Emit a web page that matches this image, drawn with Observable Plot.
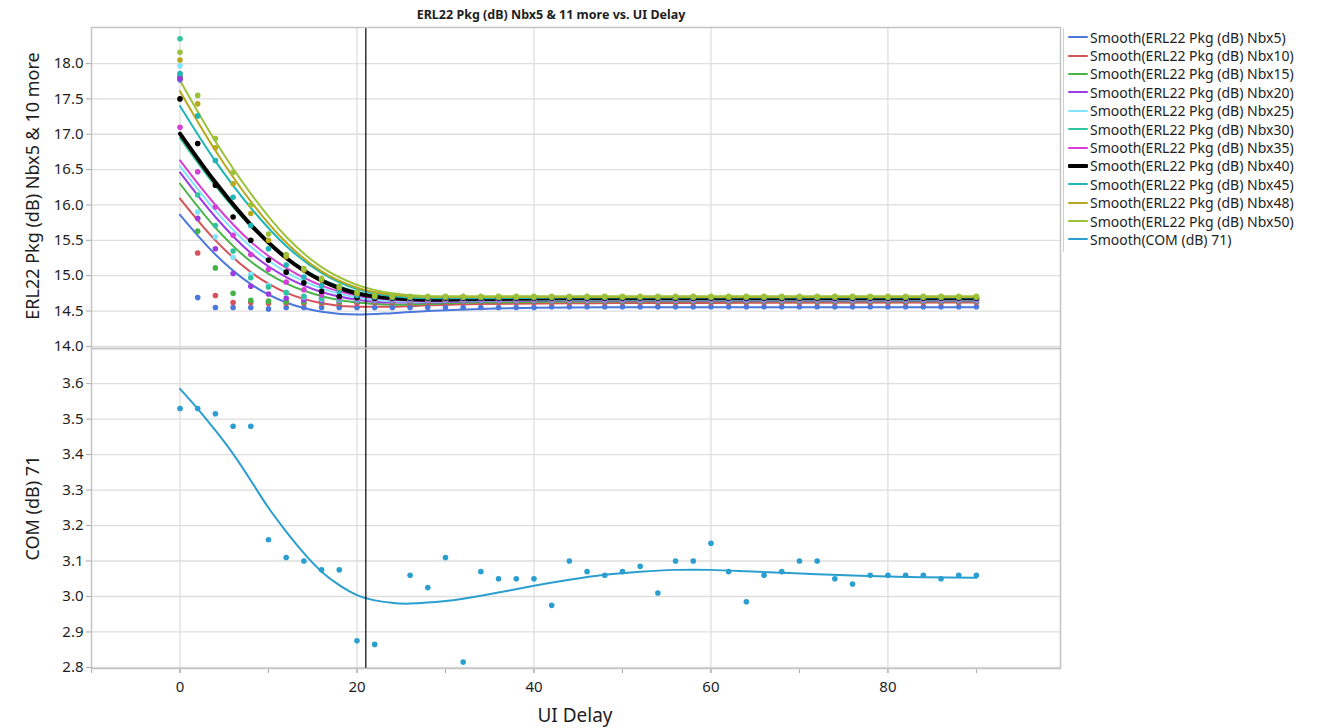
<!DOCTYPE html>
<html><head><meta charset="utf-8">
<script src="https://cdn.jsdelivr.net/npm/d3@7"></script>
<script src="https://cdn.jsdelivr.net/npm/@observablehq/plot@0.6"></script>
<style>
body{margin:0;background:#fff;font-family:"Noto Sans","Open Sans",sans-serif;}
#wrap{position:relative;width:1337px;height:728px;overflow:hidden;background:#fff}
#wrap svg{position:absolute;left:0;top:0;background:transparent}
.lbl{position:absolute;color:#1e1e1e;white-space:nowrap}
#legend{position:absolute;left:1063px;top:28px;height:224px;border-left:1px solid #cfcfcf;padding-left:4px}
.row{height:18.4px;display:flex;align-items:center;font-size:14px;color:#1e1e1e;white-space:nowrap}
.sw{width:20px;margin-right:2px;border-radius:1px}
</style></head><body><div id="wrap"></div>
<script>
// ---------- data ----------
const uiDelay = [0,2,4,6,8,10,12,14,16,18,20,22,24,26,28,30,32,34,36,38,40,42,44,46,48,50,52,54,56,58,60,62,64,66,68,70,72,74,76,78,80,82,84,86,88,90];

const seriesNames = ["Nbx5","Nbx10","Nbx15","Nbx20","Nbx25","Nbx30","Nbx35","Nbx40","Nbx45","Nbx48","Nbx50"];
const seriesColors = ["#4a78dc","#d6525a","#47b347","#9d3be0","#80e4ff","#2ec4a0","#d63ed6","#000000","#1fb5b8","#b8a81e","#9cc23a"];
const comColor = "#2a9fcf";

const erlNbx5  = [17.77,14.69,14.55,14.55,14.55,14.53,14.55,14.55,14.55,14.55,14.55,14.55,14.55,14.55,14.55,14.55,14.55,14.55,14.55,14.55,14.55,14.56,14.56,14.56,14.56,14.56,14.56,14.56,14.56,14.56,14.56,14.56,14.56,14.56,14.56,14.56,14.56,14.56,14.56,14.56,14.56,14.56,14.56,14.56,14.56,14.56];
const erlNbx10 = [17.80,15.32,14.72,14.62,14.62,14.61,14.61,14.61,14.61,14.61,14.61,14.62,14.62,14.62,14.62,14.62,14.62,14.62,14.62,14.62,14.62,14.62,14.62,14.62,14.62,14.62,14.62,14.62,14.62,14.62,14.62,14.62,14.62,14.62,14.62,14.62,14.62,14.62,14.62,14.62,14.62,14.62,14.62,14.62,14.62,14.62];
const erlNbx15 = [17.82,15.63,15.11,14.75,14.65,14.64,14.63,14.63,14.63,14.63,14.64,14.64,14.64,14.64,14.64,14.64,14.64,14.64,14.64,14.64,14.64,14.64,14.64,14.64,14.64,14.64,14.64,14.64,14.64,14.64,14.64,14.64,14.64,14.64,14.64,14.64,14.64,14.64,14.64,14.64,14.64,14.64,14.64,14.64,14.64,14.64];
const erlNbx20 = [17.79,15.81,15.38,15.03,14.85,14.74,14.68,14.66,14.65,14.65,14.65,14.65,14.65,14.65,14.65,14.65,14.65,14.65,14.65,14.65,14.65,14.65,14.65,14.65,14.65,14.65,14.65,14.65,14.65,14.65,14.65,14.65,14.65,14.65,14.65,14.65,14.65,14.65,14.65,14.65,14.65,14.65,14.65,14.65,14.65,14.65];
const erlNbx25 = [17.97,15.90,15.55,15.26,15.02,14.86,14.76,14.70,14.67,14.66,14.66,14.66,14.66,14.66,14.66,14.66,14.66,14.66,14.66,14.66,14.66,14.66,14.66,14.66,14.66,14.66,14.66,14.66,14.66,14.66,14.66,14.66,14.66,14.66,14.66,14.66,14.66,14.66,14.66,14.66,14.66,14.66,14.66,14.66,14.66,14.66];
const erlNbx30 = [18.35,16.14,15.71,15.35,14.97,14.84,14.76,14.71,14.68,14.67,14.67,14.67,14.67,14.67,14.67,14.67,14.67,14.67,14.67,14.67,14.67,14.67,14.67,14.67,14.67,14.67,14.67,14.67,14.67,14.67,14.67,14.67,14.67,14.67,14.67,14.67,14.67,14.67,14.67,14.67,14.67,14.67,14.67,14.67,14.67,14.67];
const erlNbx35 = [17.10,16.47,15.97,15.57,15.30,15.09,14.91,14.80,14.73,14.69,14.68,14.67,14.67,14.67,14.67,14.67,14.67,14.67,14.67,14.67,14.67,14.67,14.67,14.67,14.67,14.67,14.67,14.67,14.67,14.67,14.67,14.67,14.67,14.67,14.67,14.67,14.67,14.67,14.67,14.67,14.67,14.67,14.67,14.67,14.67,14.67];
const erlNbx40 = [17.50,16.87,16.28,15.83,15.50,15.22,15.05,14.90,14.78,14.71,14.69,14.68,14.68,14.68,14.68,14.68,14.68,14.68,14.68,14.68,14.68,14.68,14.68,14.68,14.68,14.68,14.68,14.68,14.68,14.68,14.68,14.68,14.68,14.68,14.68,14.68,14.68,14.68,14.68,14.68,14.68,14.68,14.68,14.68,14.68,14.68];
const erlNbx45 = [17.86,17.26,16.63,16.11,15.71,15.38,15.15,14.98,14.86,14.78,14.72,14.70,14.69,14.69,14.69,14.69,14.69,14.69,14.69,14.69,14.69,14.69,14.69,14.69,14.69,14.69,14.69,14.69,14.69,14.69,14.69,14.69,14.69,14.69,14.69,14.69,14.69,14.69,14.69,14.69,14.69,14.69,14.69,14.69,14.69,14.69];
const erlNbx48 = [18.05,17.43,16.81,16.30,15.88,15.50,15.27,15.08,14.94,14.83,14.75,14.71,14.70,14.70,14.70,14.70,14.70,14.70,14.70,14.70,14.70,14.70,14.70,14.70,14.70,14.70,14.70,14.70,14.70,14.70,14.70,14.70,14.70,14.70,14.70,14.70,14.70,14.70,14.70,14.70,14.70,14.70,14.70,14.70,14.70,14.70];
const erlNbx50 = [18.16,17.55,16.94,16.46,16.00,15.59,15.30,15.10,14.96,14.85,14.77,14.72,14.71,14.71,14.71,14.71,14.71,14.71,14.71,14.71,14.71,14.71,14.71,14.71,14.71,14.71,14.71,14.71,14.71,14.71,14.71,14.71,14.71,14.71,14.71,14.71,14.71,14.71,14.71,14.71,14.71,14.71,14.71,14.71,14.71,14.71];

// smooth curves
const smoothX = [0,4,8,12,16,20,24,28,34,44,60,90];
const smoothNbx5  = [15.86,15.30,14.88,14.62,14.49,14.45,14.47,14.50,14.53,14.55,14.555,14.555];
const smoothNbx10 = [16.09,15.50,15.05,14.76,14.61,14.56,14.56,14.58,14.60,14.61,14.615,14.62];
const smoothNbx15 = [16.30,15.68,15.20,14.89,14.71,14.62,14.59,14.60,14.62,14.63,14.64,14.64];
const smoothNbx20 = [16.46,15.83,15.32,14.98,14.77,14.66,14.62,14.62,14.64,14.65,14.65,14.65];
const smoothNbx25 = [16.55,15.92,15.41,15.05,14.82,14.69,14.64,14.63,14.65,14.66,14.66,14.66];
const smoothNbx30 = [16.95,16.27,15.70,15.26,14.95,14.77,14.68,14.65,14.66,14.67,14.67,14.67];
const smoothNbx35 = [16.63,16.00,15.48,15.11,14.86,14.72,14.66,14.64,14.66,14.67,14.67,14.67];
const smoothNbx40 = [17.01,16.32,15.72,15.25,14.93,14.75,14.68,14.66,14.67,14.68,14.68,14.68];
const smoothNbx45 = [17.40,16.62,15.96,15.42,15.04,14.81,14.71,14.68,14.68,14.69,14.69,14.69];
const smoothNbx48 = [17.61,16.77,16.05,15.47,15.06,14.83,14.73,14.70,14.70,14.70,14.70,14.70];
const smoothNbx50 = [17.76,16.90,16.16,15.55,15.12,14.87,14.75,14.71,14.71,14.71,14.71,14.71];

const comValues = [3.53,3.53,3.515,3.48,3.48,3.16,3.11,3.10,3.075,3.075,2.875,2.865,null,3.06,3.025,3.11,2.815,3.07,3.05,3.05,3.05,2.975,3.10,3.07,3.06,3.07,3.085,3.01,3.10,3.10,3.15,3.07,2.985,3.06,3.07,3.10,3.10,3.05,3.035,3.06,3.06,3.06,3.06,3.05,3.06,3.06];
const comSmoothX = [0,2,4,6,8,10,12,14,16,18,20,22,24,26,30,34,40,44,48,52,56,60,64,68,72,76,80,84,90];
const comSmoothY = [3.585,3.529,3.468,3.402,3.327,3.250,3.183,3.122,3.070,3.032,3.004,2.989,2.982,2.980,2.987,3.002,3.030,3.047,3.061,3.070,3.075,3.075,3.071,3.067,3.063,3.059,3.056,3.054,3.053];

const xMajorTicks = [0,20,40,60,80];
const xMinorTicks = [-10,0,10,20,30,40,50,60,70,80,90];
const erlTicks = [14.0,14.5,15.0,15.5,16.0,16.5,17.0,17.5,18.0];
const comTicks = [2.8,2.9,3.0,3.1,3.2,3.3,3.4,3.5,3.6];
const refLineX = 21;

const titleText = "ERL22 Pkg (dB) Nbx5 & 11 more vs. UI Delay";
const xLabel = "UI Delay";
const yLabelTop = "ERL22 Pkg (dB) Nbx5 & 10 more";
const yLabelBottom = "COM (dB) 71";

// ---------- build ----------
const erlPoints = [erlNbx5,erlNbx10,erlNbx15,erlNbx20,erlNbx25,erlNbx30,erlNbx35,erlNbx40,erlNbx45,erlNbx48,erlNbx50];
const erlSmooth = [smoothNbx5,smoothNbx10,smoothNbx15,smoothNbx20,smoothNbx25,smoothNbx30,smoothNbx35,smoothNbx40,smoothNbx45,smoothNbx48,smoothNbx50];

const W = 1337, H = 728;
const xDomain = [-10, 99.5];
const gridStyle = {stroke:"#dedede", strokeOpacity:1, strokeWidth:1.3};
const fontFam = "Noto Sans, Open Sans, sans-serif";

const topMarks = [
  Plot.gridY(erlTicks, gridStyle),
  Plot.gridX(xMajorTicks, gridStyle),
  Plot.axisY(erlTicks, {tickFormat:d=>d.toFixed(1), tickSize:5, tickPadding:3, fontSize:15, stroke:"#aaa", color:"#1e1e1e", label:null}),
];
erlPoints.forEach((arr, i) => {
  const sdata = smoothX.map((x, j) => ({x, y: erlSmooth[i][j]}));
  topMarks.push(Plot.line(sdata, {x:"x", y:"y", stroke:seriesColors[i], strokeWidth: seriesNames[i]==="Nbx40" ? 4 : 2, curve:"monotone-x"}));
});
erlPoints.forEach((arr, i) => {
  const pdata = uiDelay.map((x, j) => ({x, y: arr[j]}));
  topMarks.push(Plot.dot(pdata, {x:"x", y:"y", r:2.8, fill:seriesColors[i], stroke:"none"}));
});
topMarks.push(Plot.ruleX([refLineX], {stroke:"#000", strokeWidth:1.2}));
topMarks.push(Plot.frame({stroke:"#c4c4c4", strokeWidth:1.5}));

const topPlot = Plot.plot({
  width:W, height:H, marginLeft:91, marginRight:277, marginTop:27, marginBottom:380,
  style:{fontFamily:fontFam, background:"transparent"},
  x:{domain:xDomain, axis:null},
  y:{domain:[13.97,18.51], axis:null},
  marks: topMarks
});

const comData = uiDelay.map((x, j) => ({x, y: comValues[j]}));
const comSmooth = comSmoothX.map((x, j) => ({x, y: comSmoothY[j]}));
const bottomPlot = Plot.plot({
  width:W, height:H, marginLeft:91, marginRight:277, marginTop:348, marginBottom:60,
  style:{fontFamily:fontFam, background:"transparent"},
  x:{domain:xDomain, axis:null},
  y:{domain:[2.797,3.699], axis:null},
  marks:[
    Plot.gridY(comTicks, gridStyle),
    Plot.gridX(xMajorTicks, gridStyle),
    Plot.axisY(comTicks, {tickFormat:d=>d.toFixed(1), tickSize:5, tickPadding:3, fontSize:15, stroke:"#aaa", color:"#1e1e1e", label:null}),
    Plot.axisX(xMinorTicks, {text:null, tickSize:5, stroke:"#aaa", label:null}),
    Plot.axisX(xMajorTicks, {tickSize:5, tickPadding:8, fontSize:15, stroke:"#aaa", color:"#1e1e1e", label:null}),
    Plot.line(comSmooth, {x:"x", y:"y", stroke:comColor, strokeWidth:2, curve:"natural"}),
    Plot.dot(comData, {x:"x", y:"y", r:2.8, fill:comColor, stroke:"none"}),
    Plot.ruleX([refLineX], {stroke:"#000", strokeWidth:1.2}),
    Plot.frame({stroke:"#c4c4c4", strokeWidth:1.5})
  ]
});

const wrap = document.getElementById("wrap");
wrap.appendChild(topPlot);
wrap.appendChild(bottomPlot);

function addLabel(text, style) {
  const d = document.createElement("div");
  d.className = "lbl";
  d.textContent = text;
  Object.assign(d.style, style);
  wrap.appendChild(d);
}
addLabel(titleText, {left:"551px", top:"14px", transform:"translate(-50%,-50%)", fontSize:"12.5px", fontWeight:"bold"});
addLabel(xLabel, {left:"575px", top:"715px", transform:"translate(-50%,-50%)", fontSize:"19px"});
addLabel(yLabelTop, {left:"32px", top:"186px", transform:"translate(-50%,-50%) rotate(-90deg)", fontSize:"18px"});
addLabel(yLabelBottom, {left:"32px", top:"508px", transform:"translate(-50%,-50%) rotate(-90deg)", fontSize:"18px"});

// legend
const legend = document.createElement("div");
legend.id = "legend";
const legendItems = seriesNames.map((n, i) => ({text:`Smooth(ERL22 Pkg (dB) ${n})`, color:seriesColors[i], w: n==="Nbx40" ? 4 : 2}));
legendItems.push({text:"Smooth(COM (dB) 71)", color:comColor, w:2});
legendItems.forEach(it => {
  const r = document.createElement("div");
  r.className = "row";
  const s = document.createElement("div");
  s.className = "sw";
  s.style.height = it.w + "px";
  s.style.background = it.color;
  const t = document.createElement("span");
  t.textContent = it.text;
  r.appendChild(s); r.appendChild(t);
  legend.appendChild(r);
});
wrap.appendChild(legend);
</script></body></html>
